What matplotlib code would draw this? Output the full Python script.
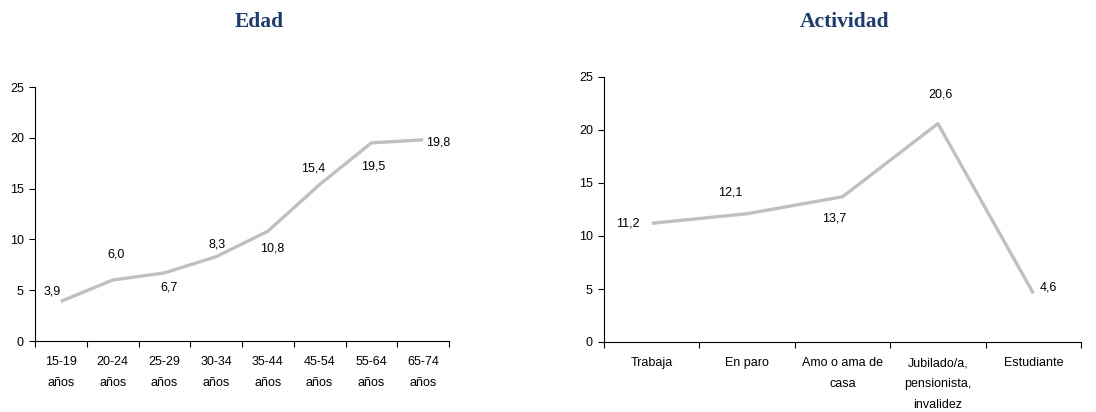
import numpy as np
import matplotlib.pyplot as plt

# data
edad_cats = ['15-19\naños', '20-24\naños', '25-29\naños', '30-34\naños',
             '35-44\naños', '45-54\naños', '55-64\naños', '65-74\naños']
edad_vals = [3.9, 6.0, 6.7, 8.3, 10.8, 15.4, 19.5, 19.8]

act_cats = ['Trabaja', 'En paro', 'Amo o ama de\ncasa',
            'Jubilado/a,\npensionista,\ninvalidez', 'Estudiante']
act_vals = [11.2, 12.1, 13.7, 20.6, 4.6]

# label offsets in pixels (dx, dy)
edad_offsets = [(-9, 10), (3, 26), (5, -15), (1, 12), (4, -17), (-6, 16), (2, -24), (15, -3)]
act_offsets = [(-24, 0), (-17, 21), (-8, -22), (3, 29), (15, 6)]

plt.rcParams['font.family'] = ['Liberation Sans', 'DejaVu Sans']
LINE = '#c0c0c0'
TITLE = '#1f3b6b'

fig = plt.figure(figsize=(10.96, 4.12), dpi=100)


def draw(ax, cats, vals, offsets, title, title_x):
    n = len(cats)
    x = np.arange(n)
    ax.plot(x, vals, color=LINE, lw=2.4, solid_capstyle='butt')
    for xi, v, (dx, dy) in zip(x, vals, offsets):
        ax.annotate(f'{v:.1f}'.replace('.', ','), (xi, v),
                    xytext=(dx * 0.72, dy * 0.72), textcoords='offset points',
                    ha='center', va='center', fontsize=9)
    ax.set_xlim(-0.5, n - 0.5)
    ax.set_ylim(0, 25)
    ax.set_yticks([0, 5, 10, 15, 20, 25])
    ax.set_xticks(np.arange(n + 1) - 0.5)
    ax.set_xticklabels([])
    ax.set_xticks(x, minor=True)
    ax.set_xticklabels(cats, minor=True, fontsize=9, linespacing=2.0, va='top')
    ax.tick_params(axis='x', which='major', length=4, width=0.8)
    ax.tick_params(axis='x', which='minor', length=0, pad=11)
    ax.tick_params(axis='y', length=4, width=0.8, pad=4, labelsize=9)
    for s in ['top', 'right']:
        ax.spines[s].set_visible(False)
    for s in ['left', 'bottom']:
        ax.spines[s].set_linewidth(0.8)
    fig.text(title_x, 1 - 22 / 412, title, ha='center', va='center',
             fontsize=15.5, fontweight='bold', color=TITLE,
             family=['Liberation Serif', 'DejaVu Serif'])


ax1 = fig.add_axes([35 / 1096, 1 - 341 / 412, 414 / 1096, 254 / 412])
draw(ax1, edad_cats, edad_vals, edad_offsets, 'Edad', 259 / 1096)

ax2 = fig.add_axes([604 / 1096, 1 - 342 / 412, 477 / 1096, 265 / 412])
draw(ax2, act_cats, act_vals, act_offsets, 'Actividad', 845 / 1096)

fig.savefig('out.png', dpi=100)
